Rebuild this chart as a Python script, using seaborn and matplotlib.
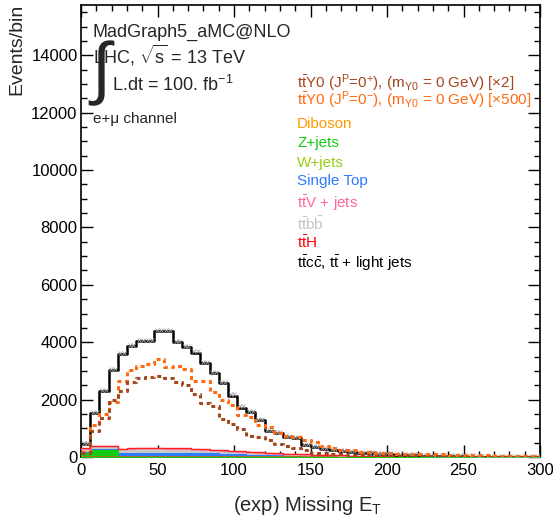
import numpy as np
import pandas as pd
import matplotlib
matplotlib.use("Agg")
import matplotlib.pyplot as plt
import seaborn as sns

# ---------------- data ----------------
bin_edges = np.arange(0, 301, 6)          # 50 bins, 6 GeV wide (0..300)

diboson = [2, 2, 2, 2, 2, 2, 2, 2, 2, 2, 2, 2, 2, 2, 2, 2, 2, 2, 2, 2,
           2, 2, 2, 2, 2, 2, 2, 2, 2, 2, 1, 1, 1, 1, 1, 1, 1, 1, 1, 1,
           1, 1, 1, 1, 1, 1, 1, 1, 1, 1]
zjets = [150, 250, 250, 250, 0, 0, 0, 0, 0, 0, 0, 0, 0, 0, 0, 0, 0, 0, 0, 0,
         0, 0, 0, 0, 0, 0, 0, 0, 0, 0, 0, 0, 0, 0, 0, 0, 0, 0, 0, 0,
         0, 0, 0, 0, 0, 0, 0, 0, 0, 0]
wjets = [4, 4, 4, 4, 0, 0, 0, 0, 0, 0, 0, 0, 0, 0, 0, 0, 0, 0, 0, 0,
         0, 0, 0, 0, 0, 0, 0, 0, 0, 0, 0, 0, 0, 0, 0, 0, 0, 0, 0, 0,
         0, 0, 0, 0, 0, 0, 0, 0, 0, 0]
single_top = [20, 40, 40, 40, 130, 140, 150, 150, 150, 145,
              140, 140, 135, 130, 120, 110, 100, 90, 80, 70,
              60, 55, 50, 40, 35, 30, 25, 20, 18, 15,
              12, 10, 8, 6, 5, 4, 3, 3, 2, 2,
              2, 1, 1, 1, 1, 1, 0, 0, 0, 0]
ttbb = [100, 60, 60, 60, 110, 120, 130, 130, 130, 125,
        120, 115, 110, 105, 100, 95, 90, 80, 70, 65,
        60, 55, 50, 45, 40, 35, 30, 27, 24, 21,
        18, 16, 14, 12, 10, 9, 8, 7, 6, 5,
        4, 4, 3, 3, 2, 2, 2, 1, 1, 1]
ttv = [20, 15, 15, 15, 20, 20, 20, 20, 20, 20,
       20, 20, 18, 18, 16, 15, 14, 13, 12, 11,
       10, 9, 8, 7, 6, 5, 5, 4, 4, 3,
       3, 3, 2, 2, 2, 2, 1, 1, 1, 1,
       1, 1, 1, 0, 0, 0, 0, 0, 0, 0]
tth = [10, 10, 10, 10, 25, 25, 25, 25, 25, 25,
       25, 25, 22, 22, 20, 18, 16, 15, 14, 13,
       12, 11, 10, 9, 8, 7, 6, 5, 5, 4,
       4, 3, 3, 3, 2, 2, 2, 2, 1, 1,
       1, 1, 1, 1, 1, 0, 0, 0, 0, 0]
ttlight = [150, 1150, 1910, 2660, 3310, 3550, 3720, 3700, 4060, 4080,
           3700, 3540, 3350, 2990, 2660, 2330, 1920, 1520, 1380, 1130,
           760, 690, 570, 550, 330, 260, 210, 180, 160, 135,
           110, 90, 80, 70, 60, 50, 40, 30, 27, 20,
           16, 12, 8, 6, 5, 4, 3, 3, 2, 1]

sig_plus_x2 = [150, 900, 1350, 2000, 2300, 2600, 2760, 2800, 2820, 2740,
               2620, 2500, 2200, 1880, 1760, 1340, 1160, 990, 720, 680,
               580, 470, 400, 300, 250, 150, 130, 100, 90, 70,
               60, 50, 45, 40, 35, 30, 25, 20, 18, 15,
               12, 10, 8, 7, 6, 5, 4, 3, 3, 2]
sig_minus_x500 = [180, 1100, 1500, 1920, 2640, 3020, 3160, 3250, 3400, 3140,
                  3160, 3050, 2660, 2640, 2250, 1975, 1800, 1450, 1390, 1100,
                  1040, 850, 720, 690, 580, 520, 380, 330, 260, 230,
                  180, 170, 140, 135, 120, 115, 100, 95, 90, 90,
                  80, 70, 65, 60, 55, 50, 50, 45, 45, 40]

legend_labels = [
    r"$t\bar{t}$Y0 (J$^{P}$=0$^{+}$), (m$_{Y0}$ = 0 GeV) [×2]",
    r"$t\bar{t}$Y0 (J$^{P}$=0$^{-}$), (m$_{Y0}$ = 0 GeV) [×500]",
    "Diboson", "Z+jets", "W+jets", "Single Top",
    r"$t\bar{t}$V + jets", r"$t\bar{t}b\bar{b}$", r"$t\bar{t}$H",
    r"$t\bar{t}c\bar{c}$, $t\bar{t}$ + light jets",
]
legend_colors = ["#a3461c", "#ff6a12", "#ff9900", "#11cc11", "#99cc11",
                 "#2f7bff", "#ff6699", "#c4c4c4", "#ff0000", "#000000"]

# ---------------- style ----------------
sns.set_theme(style="ticks")
plt.rcParams["font.family"] = ["Liberation Sans", "DejaVu Sans"]
plt.rcParams["mathtext.fontset"] = "custom"
plt.rcParams["mathtext.rm"] = "Liberation Sans"
plt.rcParams["mathtext.it"] = "Liberation Sans:italic"
plt.rcParams["mathtext.bf"] = "Liberation Sans:bold"
plt.rcParams["mathtext.default"] = "regular"

W, H = 553, 529
fig = plt.figure(figsize=(W / 100, H / 100), dpi=100)
ax = fig.add_axes([81 / W, 1 - 457 / H, (540 - 81) / W, (457 - 5) / H])

centers = 0.5 * (bin_edges[:-1] + bin_edges[1:])
edges_list = [float(e) for e in bin_edges]

# stacking (bottom -> top)
c_dib = np.array(diboson, float)
c_z = c_dib + np.array(zjets)
c_w = c_z + np.array(wjets)
c_st = c_w + np.array(single_top)
c_bb = c_st + np.array(ttbb)
c_v = c_bb + np.array(ttv)
c_h = c_v + np.array(tth)
c_all = c_h + np.array(ttlight)


def step(vals, color, fill=False, lw=1.2, ls="-", alpha=1.0, z=2):
    df = pd.DataFrame({"x": centers, "w": np.asarray(vals, float)})
    kw = dict(data=df, x="x", weights="w", bins=edges_list, element="step",
              fill=fill, ax=ax, linewidth=lw, zorder=z)
    if fill:
        sns.histplot(color=color, alpha=alpha, edgecolor=color, **kw)
    else:
        sns.histplot(color=color, linestyle=ls, **kw)


# painter's order for the filled stack
step(c_bb, "#cccccc", fill=True, lw=0.8, z=2)
step(c_st, "#2f7bff", fill=True, lw=0.8, z=3)
step(c_w, "#99cc11", fill=True, lw=0.8, z=4)
step(c_z, "#11cc11", fill=True, lw=0.8, z=5)
step(c_dib, "#b06a1a", fill=False, lw=2.0, z=6)
step(c_v, "#ff88aa", fill=False, lw=1.0, z=6)
step(c_h, "#ff2020", fill=False, lw=1.0, z=7)
step(c_all, "black", fill=False, lw=1.8, z=9)

# stat. error markers along the total
xm = np.concatenate([bin_edges[:-1] + 1.8, bin_edges[:-1] + 4.2])
ym = np.concatenate([c_all, c_all]) + 40
ax.plot(xm, ym, linestyle="none", marker="x", ms=3.4, mew=0.6,
        color="#a8a8a8", zorder=9.5)

# signals (not stacked)
step(sig_minus_x500, "#ff6a12", fill=False, lw=2.2, ls=(0, (1.3, 1.2)), z=10)
step(sig_plus_x2, "#a3461c", fill=False, lw=2.2, ls=(0, (1.3, 1.2)), z=10)

# ---------------- axes ----------------
ax.set_xlim(0, 300)
ax.set_ylim(0, 15750)
ax.set_xlabel("")
ax.set_ylabel("")
ax.set_xticks(np.arange(0, 301, 50))
ax.set_xticks(np.arange(0, 301, 10), minor=True)
ax.set_yticks(np.arange(0, 15001, 2000))
ax.set_yticks(np.arange(0, 15751, 500), minor=True)
ax.tick_params(which="both", direction="in", top=True, right=True,
               width=1.0, colors="black", labelsize=12)
ax.tick_params(which="major", length=8.6)
ax.tick_params(which="minor", length=4.5)
ax.tick_params(axis="x", pad=4)
ax.tick_params(axis="y", pad=2.5)
for sp in ax.spines.values():
    sp.set_visible(True)
    sp.set_linewidth(1.2)
    sp.set_color("black")

# axis titles
fig.text(17 / W, 1 - 4 / H, "Events/bin", rotation=90, ha="center",
         va="top", fontsize=14)
fig.text(233 / W, 1 - 511 / H, r"(exp) Missing E$_{T}$", ha="left",
         va="baseline", fontsize=14.5)

# header texts
fig.text(93 / W, 1 - 37 / H, "MadGraph5_aMC@NLO", fontsize=13,
         va="baseline")
fig.text(93 / W, 1 - 63 / H, r"LHC, $\sqrt{s}$ = 13 TeV", fontsize=13,
         va="baseline")
fig.text(91 / W, 1 - 91 / H, "∫", fontsize=50, va="baseline",
         family=["Liberation Sans", "DejaVu Sans"])
fig.text(112 / W, 1 - 91 / H, r"L.dt = 100. fb$^{-1}$", fontsize=13,
         va="baseline")
fig.text(93 / W, 1 - 123 / H, "e+μ channel", fontsize=11, va="baseline")

# legend as coloured text
baselines = [88, 105, 128, 147, 167, 185, 208, 230, 248, 268]
for lab, col, yb in zip(legend_labels, legend_colors, baselines):
    fig.text(297 / W, 1 - yb / H, lab, color=col, fontsize=11,
             va="baseline")

fig.savefig("out.png", dpi=100)
